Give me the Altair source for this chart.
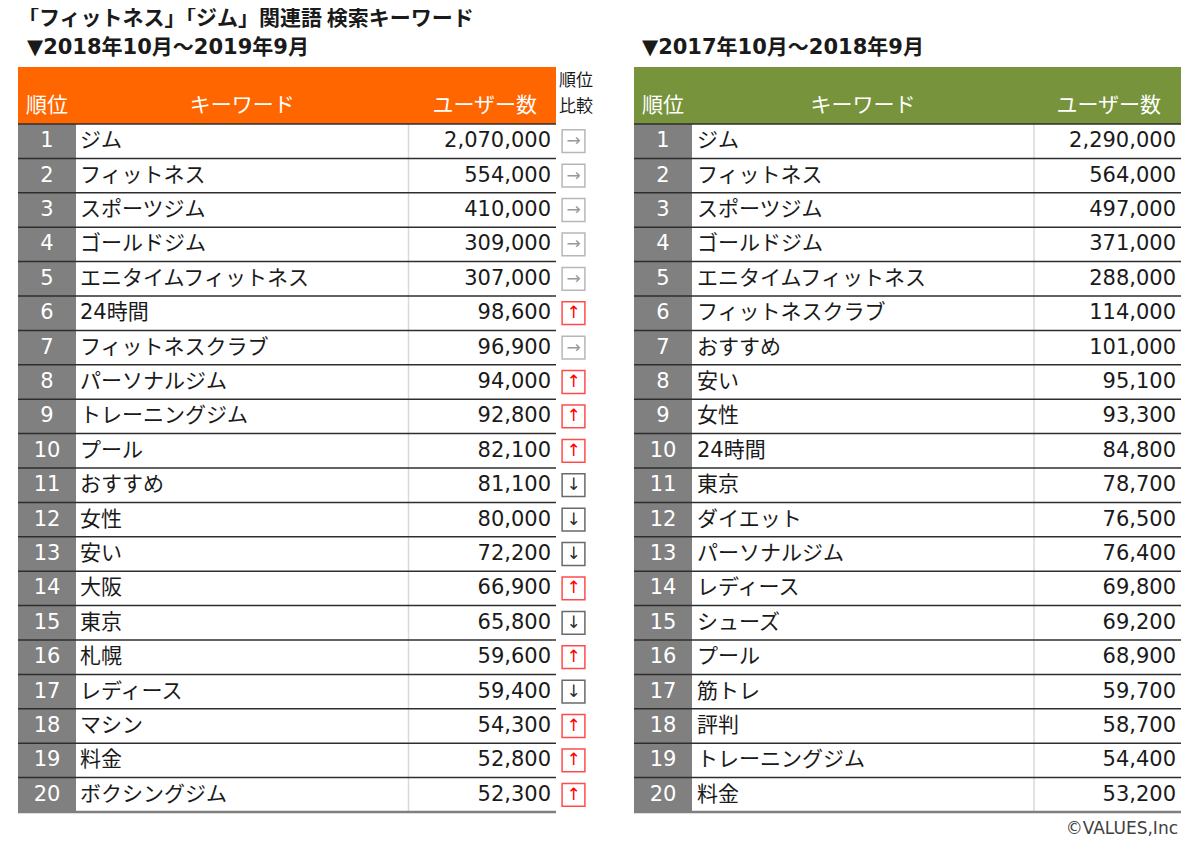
import altair as alt
import pandas as pd

# ---------------- data ----------------
ranks = list(range(1, 21))

kw_new = ["ジム", "フィットネス", "スポーツジム", "ゴールドジム", "エニタイムフィットネス",
          "24時間", "フィットネスクラブ", "パーソナルジム", "トレーニングジム", "プール",
          "おすすめ", "女性", "安い", "大阪", "東京", "札幌", "レディース", "マシン",
          "料金", "ボクシングジム"]
users_new = [2070000, 554000, 410000, 309000, 307000, 98600, 96900, 94000, 92800, 82100,
             81100, 80000, 72200, 66900, 65800, 59600, 59400, 54300, 52800, 52300]
trend_new = ["→", "→", "→", "→", "→", "↑", "→", "↑", "↑", "↑",
             "↓", "↓", "↓", "↑", "↓", "↑", "↓", "↑", "↑", "↑"]

kw_old = ["ジム", "フィットネス", "スポーツジム", "ゴールドジム", "エニタイムフィットネス",
          "フィットネスクラブ", "おすすめ", "安い", "女性", "24時間", "東京", "ダイエット",
          "パーソナルジム", "レディース", "シューズ", "プール", "筋トレ", "評判",
          "トレーニングジム", "料金"]
users_old = [2290000, 564000, 497000, 371000, 288000, 114000, 101000, 95100, 93300, 84800,
             78700, 76500, 76400, 69800, 69200, 68900, 59700, 58700, 54400, 53200]

title_text = "「フィットネス」「ジム」関連語 検索キーワード"
period_new = "▼2018年10月～2019年9月"
period_old = "▼2017年10月～2018年9月"
header_rank = "順位"
header_kw = "キーワード"
header_users = "ユーザー数"
compare_lines = ["順位", "比較"]
credit = "©VALUES,Inc"

trend_symbols = ["→", "↑", "↓"]
trend_colors = ["#9a9a9a", "#ff0000", "#2b2b2b"]

df_new = pd.DataFrame({"rank": ranks, "keyword": kw_new, "users": users_new, "trend": trend_new})
df_old = pd.DataFrame({"rank": ranks, "keyword": kw_old, "users": users_old})
one = pd.DataFrame({"k": [0]})

# ---------------- layout helpers ----------------
M = 8


def px(v):
    return v - M


JP = "Noto Sans CJK JP"
NUM = "DejaVu Sans, Noto Sans CJK JP"
TXT = "#1a1a1a"

yscale = alt.Scale(domain=[0.5, 20.5], range=[px(124), px(812)], nice=False, zero=False)


def Yf(field):
    return alt.Y(field, scale=yscale, axis=None)


def label(text, x, y, size, color=TXT, align="left", weight="normal", font=JP):
    return alt.Chart(one).mark_text(
        text=text, font=font, fontSize=size, color=color, align=align,
        baseline="middle", fontWeight=weight
    ).encode(x=alt.value(px(x)), y=alt.value(px(y)))


def table(df, x0, x_div, x1, kw_x, val_x, users_hdr_x, hdr_color):
    base = alt.Chart(df).transform_calculate(top="datum.rank - 0.5", bot="datum.rank + 0.5")
    layers = []
    # header block
    layers.append(alt.Chart(one).mark_rect(color=hdr_color).encode(
        x=alt.value(px(x0)), x2=alt.value(px(x1)), y=alt.value(px(67)), y2=alt.value(px(124))))
    # rank column background
    layers.append(base.mark_rect(color="#808080").encode(
        x=alt.value(px(x0)), x2=alt.value(px(x0 + 58)), y=Yf("top:Q"), y2="bot:Q"))
    # vertical divider
    layers.append(base.mark_rule(color="#d9d9d9", strokeWidth=1.5).encode(
        x=alt.value(px(x_div)), y=Yf("top:Q"), y2="bot:Q"))
    # row separators
    layers.append(base.mark_rule(color="#2e2e2e", strokeWidth=1.5).encode(
        x=alt.value(px(x0)), x2=alt.value(px(x1)), y=Yf("top:Q")))
    layers.append(base.transform_filter("datum.rank == 20").mark_rule(
        color="#7f7f7f", strokeWidth=2.5).encode(
        x=alt.value(px(x0)), x2=alt.value(px(x1)), y=Yf("bot:Q")))
    # cell texts
    layers.append(base.mark_text(font=NUM, fontSize=21, color="white", align="center",
                                 baseline="middle").encode(
        x=alt.value(px(x0 + 29)), y=Yf("rank:Q"), text="rank:Q"))
    layers.append(base.mark_text(font=NUM, fontSize=21, color=TXT, align="left",
                                 baseline="middle").encode(
        x=alt.value(px(kw_x)), y=Yf("rank:Q"), text="keyword:N"))
    layers.append(base.mark_text(font=NUM, fontSize=21, color=TXT, align="right",
                                 baseline="middle").encode(
        x=alt.value(px(val_x)), y=Yf("rank:Q"), text=alt.Text("users:Q", format=",")))
    # header texts
    layers.append(label(header_rank, x0 + 29, 106, 21, color="white", align="center"))
    layers.append(label(header_kw, (x0 + 58 + x_div) / 2, 106, 21, color="white", align="center"))
    layers.append(label(header_users, users_hdr_x, 106, 21, color="white", align="right"))
    return layers


layers = []
layers += table(df_new, 18, 408.5, 556, 80, 551, 537, "#ff6600")
layers += table(df_old, 634, 1034, 1181, 697, 1176, 1161, "#77933c")

# comparison column
tcolor = alt.Color("trend:N", scale=alt.Scale(domain=trend_symbols, range=trend_colors), legend=None)
layers.append(alt.Chart(df_new).mark_square(filled=False, strokeWidth=1.5, size=520).encode(
    x=alt.value(px(573.5)), y=Yf("rank:Q"), color=tcolor))
layers.append(alt.Chart(df_new).mark_text(font="DejaVu Sans", fontSize=17, baseline="middle",
                                          align="center").encode(
    x=alt.value(px(573.5)), y=Yf("rank:Q"), text="trend:N", color=tcolor))
layers.append(label(compare_lines[0], 576, 81, 17, align="center"))
layers.append(label(compare_lines[1], 576, 107, 17, align="center"))

# titles
layers.append(label(title_text, 18, 19, 21, weight="bold"))
layers.append(label(period_new, 27, 48, 21, weight="bold", font=NUM))
layers.append(label(period_old, 642, 48, 21, weight="bold", font=NUM))
layers.append(label(credit, 1178, 829, 17, color="#404040", align="right", font=NUM))

chart = alt.layer(*layers).properties(
    width=1184, height=831, padding=0, autosize="none"
).configure_view(strokeWidth=0)

chart.save("out.html", embed_options={"renderer": "svg", "actions": False})
